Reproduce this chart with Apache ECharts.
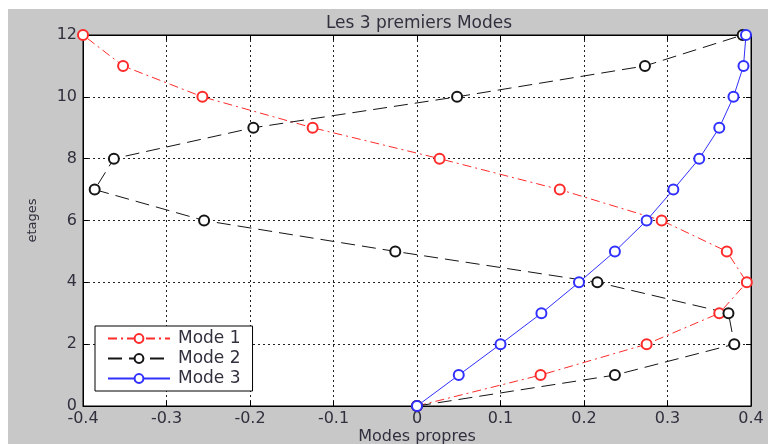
<!DOCTYPE html>
<html>
<head>
<meta charset="utf-8">
<script src="https://cdn.jsdelivr.net/npm/echarts@6/dist/echarts.min.js"></script>
<style>
  html, body { margin: 0; padding: 0; background: #fff; }
  #frame { position: absolute; left: 8px; top: 9px; width: 760px; height: 435px; background: #c8c8c8; }
  #chart { position: absolute; left: 0; top: 0; width: 774px; height: 444px; }
</style>
</head>
<body>
<div id="frame"></div>
<div id="chart"></div>
<script>
// Floors (etages) and modal displacements of the first three modes
const etages = [0, 1, 2, 3, 4, 5, 6, 7, 8, 9, 10, 11, 12];
const mode1 = [0, 0.148, 0.275, 0.362, 0.395, 0.371, 0.293, 0.171, 0.027, -0.125, -0.257, -0.352, -0.400];
const mode2 = [0, 0.237, 0.380, 0.373, 0.216, -0.026, -0.255, -0.386, -0.363, -0.196, 0.048, 0.273, 0.390];
const mode3 = [0, 0.050, 0.100, 0.149, 0.194, 0.237, 0.275, 0.307, 0.338, 0.362, 0.379, 0.391, 0.394];
const seriesNames = ['Mode 1', 'Mode 2', 'Mode 3'];
const xTicks = { min: -0.4, max: 0.4, step: 0.1 };
const yTicks = { min: 0, max: 12, step: 2 };

const pairs = (vals) => vals.map((v, i) => [v, etages[i]]);

const FONT = 'DejaVu Sans, Verdana, sans-serif';
const TEXT_COLOR = '#30303e';
const labelFont = { fontFamily: FONT, fontSize: 16, color: TEXT_COLOR };
const gridLine = { show: true, lineStyle: { color: '#222', width: 1, type: [2, 3] } };
const frameTick = { show: true, inside: true, length: 5, lineStyle: { color: '#000' } };
const frameLine = { show: true, onZero: false, lineStyle: { color: '#000', width: 1 } };

const chart = echarts.init(document.getElementById('chart'), null, { renderer: 'canvas' });

const lineSeries = (name, vals, color, dash) => ({
  name: name,
  type: 'line',
  data: pairs(vals),
  xAxisIndex: 0,
  yAxisIndex: 0,
  symbol: 'emptyCircle',
  symbolSize: 10,
  showAllSymbol: true,
  clip: false,
  animation: false,
  lineStyle: { color: color, width: 1, type: dash },
  itemStyle: { color: color, borderColor: color, borderWidth: 1 }
});

chart.setOption({
  backgroundColor: 'transparent',
  animation: false,
  title: {
    text: 'Les 3 premiers Modes',
    left: 414,
    top: 10,
    textAlign: 'center',
    textStyle: { fontFamily: FONT, fontSize: 17, fontWeight: 'normal', color: TEXT_COLOR }
  },
  grid: {
    left: 83, top: 35, width: 668, height: 371,
    containLabel: false,
    outerBoundsMode: 'none',
    show: true, backgroundColor: '#fff', borderColor: '#000', borderWidth: 1
  },
  legend: {
    orient: 'vertical',
    left: 95, top: 326,
    padding: [4, 12, 4, 12],
    backgroundColor: '#fff',
    borderColor: '#000',
    borderWidth: 1,
    borderRadius: 0,
    itemWidth: 62,
    itemHeight: 11,
    itemGap: 3,
    textStyle: { fontFamily: FONT, fontSize: 17, lineHeight: 17, color: TEXT_COLOR, padding: [0, 0, 0, 3] },
    data: seriesNames
  },
  xAxis: [
    {
      type: 'value', position: 'bottom',
      min: xTicks.min, max: xTicks.max, interval: xTicks.step,
      name: 'Modes propres', nameLocation: 'middle', nameGap: 23,
      nameMoveOverlap: false,
      nameTextStyle: labelFont,
      axisLine: frameLine,
      axisTick: frameTick,
      axisLabel: Object.assign({ margin: 5, formatter: (v) => String(+v.toFixed(1)) }, labelFont),
      splitLine: gridLine
    },
    {
      type: 'value', position: 'top',
      min: xTicks.min, max: xTicks.max, interval: xTicks.step,
      axisLine: frameLine,
      axisTick: frameTick,
      axisLabel: { show: false },
      splitLine: { show: false }
    }
  ],
  yAxis: [
    {
      type: 'value', position: 'left',
      min: yTicks.min, max: yTicks.max, interval: yTicks.step,
      name: 'etages', nameLocation: 'middle', nameGap: 44, nameRotate: 90,
      nameMoveOverlap: false,
      nameTextStyle: Object.assign({}, labelFont, { fontSize: 13 }),
      axisLine: frameLine,
      axisTick: frameTick,
      axisLabel: Object.assign({ margin: 6 }, labelFont),
      splitLine: gridLine
    },
    {
      type: 'value', position: 'right',
      min: yTicks.min, max: yTicks.max, interval: yTicks.step,
      axisLine: frameLine,
      axisTick: frameTick,
      axisLabel: { show: false },
      splitLine: { show: false }
    }
  ],
  series: [
    lineSeries(seriesNames[0], mode1, '#ff2a2a', [9, 4, 2, 4]),
    lineSeries(seriesNames[1], mode2, '#151515', [14, 7]),
    lineSeries(seriesNames[2], mode3, '#3030ff', 'solid')
  ]
});
</script>
</body>
</html>
